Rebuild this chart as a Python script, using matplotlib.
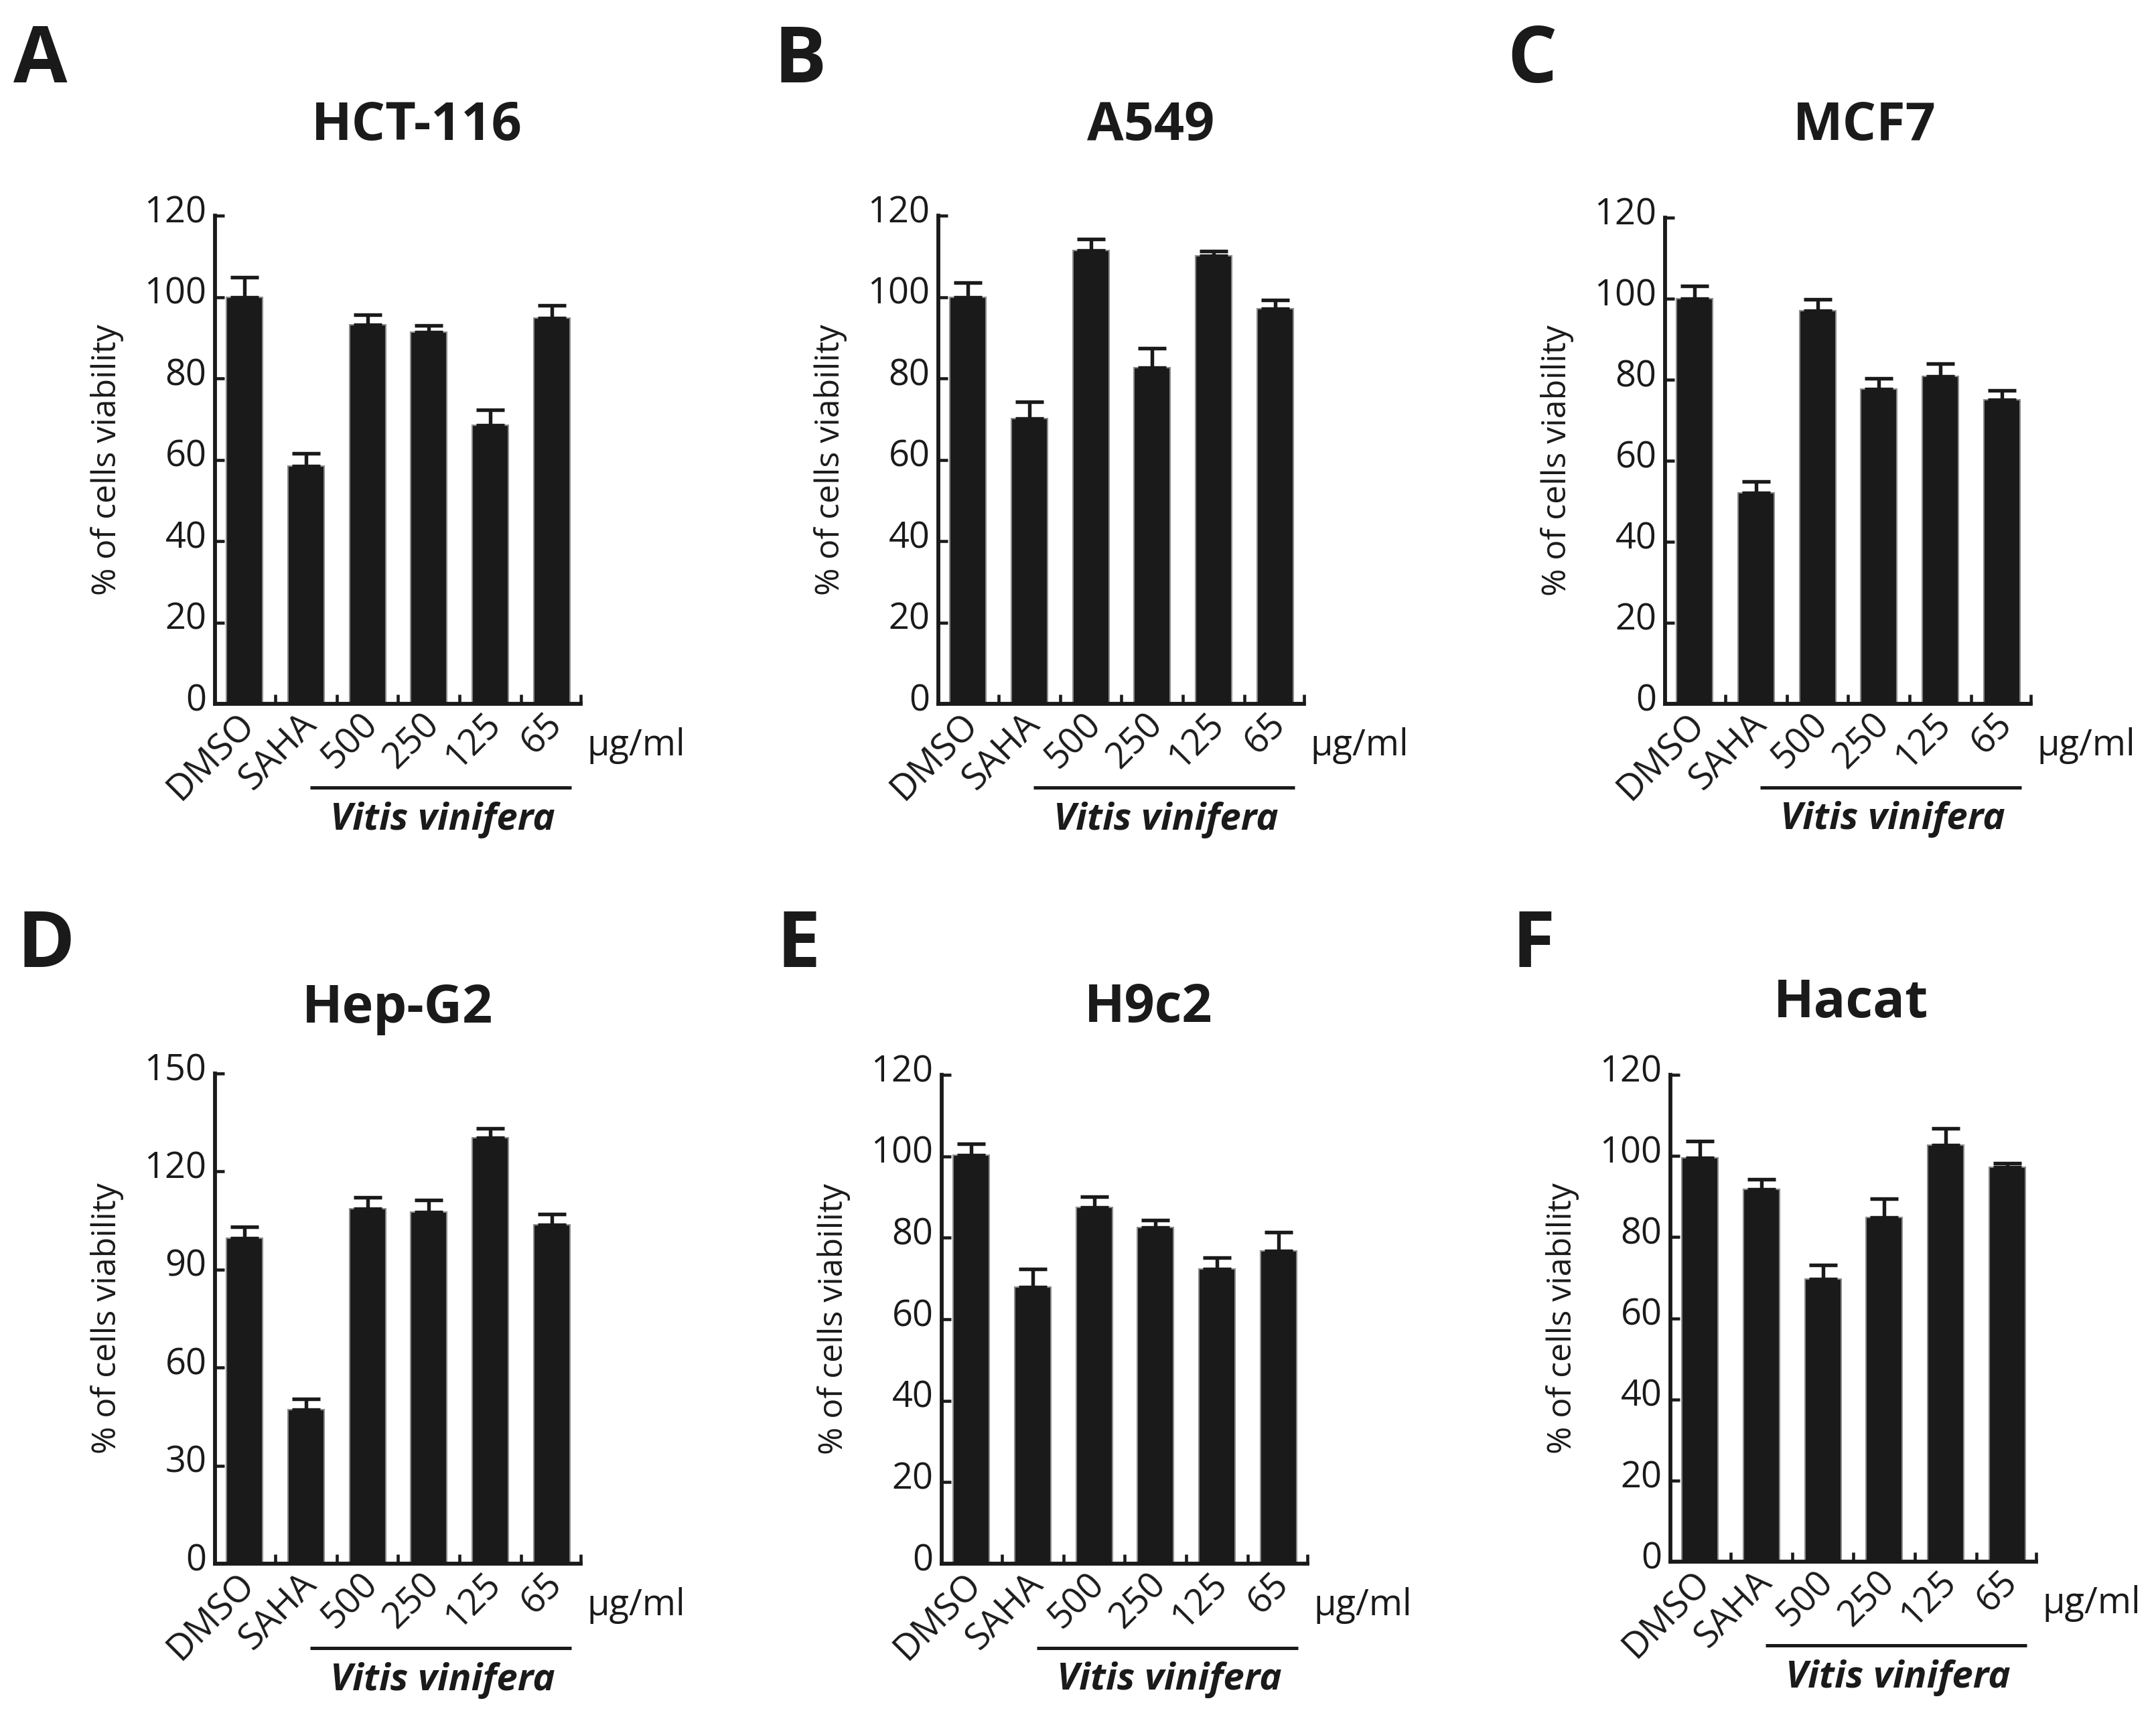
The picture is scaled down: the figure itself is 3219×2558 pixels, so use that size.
import matplotlib
matplotlib.use('Agg')
import matplotlib.pyplot as plt
import matplotlib.transforms as mtransforms
import numpy as np

# =Data
categories = ['DMSO', 'SAHA', '500', '250', '125', '65']
letters = ['A', 'B', 'C', 'D', 'E', 'F']
titles = ['HCT-116', 'A549', 'MCF7', 'Hep-G2', 'H9c2', 'Hacat']

hct116 = [100.0, 58.4, 93.2, 91.4, 68.5, 94.8]
hct116_err = [4.9, 3.2, 2.5, 1.6, 3.8, 3.2]
a549 = [100.0, 70.1, 111.5, 82.7, 110.1, 97.1]
a549_err = [3.6, 4.2, 2.7, 4.7, 1.1, 2.1]
mcf7 = [100.0, 52.0, 97.1, 77.7, 80.8, 75.0]
mcf7_err = [3.1, 2.8, 2.8, 2.6, 3.1, 2.3]
hepg2 = [99.5, 47.2, 108.7, 107.5, 130.4, 103.7]
hepg2_err = [3.6, 3.3, 3.3, 3.7, 2.7, 3.2]
h9c2 = [100.2, 67.9, 87.4, 82.5, 72.4, 76.7]
h9c2_err = [2.9, 4.5, 2.7, 1.9, 2.7, 4.7]
hacat = [99.6, 91.7, 69.7, 84.9, 102.7, 97.3]
hacat_err = [4.1, 2.6, 3.5, 4.5, 4.1, 0.9]

yticks_120 = [0, 20, 40, 60, 80, 100, 120]
yticks_150 = [0, 30, 60, 90, 120, 150]

values = [hct116, a549, mcf7, hepg2, h9c2, hacat]
errors = [hct116_err, a549_err, mcf7_err, hepg2_err, h9c2_err, hacat_err]
yticks = [yticks_120, yticks_120, yticks_120, yticks_150, yticks_120, yticks_120]

# =Layout (pixels of the 3219x2558 canvas)
W, H = 3219, 2558
FONT = 'Open Sans'
INK = '#1a1a1a'
plt.rcParams['font.family'] = [FONT, 'DejaVu Sans']

axes_left_px = [321, 1401, 2486, 321, 1406, 2494]
axes_bottom_px = [1051, 1051, 1051, 2335, 2335, 2332]
axes_top_px = [322, 322, 325, 1603, 1605, 1605]
axes_width_px = 546
title_x_px = [622, 1718, 2784, 594, 1715, 2764]
title_base_px = [209, 209, 209, 1527, 1526, 1519]
letter_x_px = [20, 1155, 2250, 25, 1160, 2257]
letter_base_px = [123, 123, 123, 1444, 1444, 1444]

fig = plt.figure(figsize=(W / 300, H / 300), dpi=300)

for i in range(6):
    l = axes_left_px[i] / W
    b = (H - axes_bottom_px[i]) / H
    h = (axes_bottom_px[i] - axes_top_px[i]) / H
    ax = fig.add_axes([l, b, axes_width_px / W, h])
    x = np.arange(len(categories))
    ax.bar(x, values[i], width=0.59, color=INK, edgecolor='#8c8c8c',
           linewidth=0.5, zorder=2)
    # upper error bars only
    ax.errorbar(x, values[i], yerr=[np.zeros(len(x)), errors[i]], fmt='none',
                ecolor=INK, elinewidth=1.3, capsize=5, capthick=1.3, zorder=3)
    ax.set_xlim(-0.48, 5.47)
    ax.set_ylim(yticks[i][0], yticks[i][-1])
    ax.set_yticks(yticks[i])
    ax.set_xticks(x)
    ax.set_xticks([0.5, 1.5, 2.5, 3.5, 4.5, 5.47], minor=True)
    ax.set_xticklabels(categories, rotation=45, ha='right', va='center',
                       rotation_mode='anchor', fontsize=13, color=INK)
    ax.tick_params(axis='x', which='major', length=0, pad=5.5)
    ax.tick_params(axis='x', which='minor', direction='in', length=3.4,
                   width=1.1, color=INK)
    ax.tick_params(axis='y', direction='in', length=3.4, width=1.1,
                   color=INK, labelsize=13, labelcolor=INK, pad=3)
    for sp in ['top', 'right']:
        ax.spines[sp].set_visible(False)
    for sp in ['left', 'bottom']:
        ax.spines[sp].set_linewidth(1.4)
        ax.spines[sp].set_color(INK)
    # small shifts like the original export
    up = mtransforms.ScaledTranslation(0, 2.6 / 72, fig.dpi_scale_trans)
    for lab in ax.get_yticklabels():
        lab.set_transform(lab.get_transform() + up)
    right = mtransforms.ScaledTranslation(1.7 / 72, 0, fig.dpi_scale_trans)
    for lab in ax.get_xticklabels():
        lab.set_transform(lab.get_transform() + right)

    ax.set_ylabel('% of cells viability', fontsize=12, color=INK, va='center')
    ax.yaxis.set_label_coords(-0.295, 0.5)

    trans = mtransforms.blended_transform_factory(ax.transData, ax.transAxes)
    ax.text(5.57, -0.086, '\u00b5g/ml', transform=trans, fontsize=13,
            color=INK, ha='left', va='center')
    ax.plot([1.07, 5.32], [-0.172, -0.172], transform=trans, color=INK,
            linewidth=1.2, clip_on=False, solid_capstyle='butt')
    ax.text(3.22, -0.238, 'Vitis vinifera', transform=trans, fontsize=13.5,
            fontweight='bold', fontstyle='italic', color=INK,
            ha='center', va='center')

    fig.text(title_x_px[i] / W, (H - title_base_px[i]) / H, titles[i],
             fontsize=19, fontweight='bold', color=INK, ha='center',
             va='baseline')
    fig.text(letter_x_px[i] / W, (H - letter_base_px[i]) / H, letters[i],
             fontsize=28, fontweight='bold', color=INK, ha='left',
             va='baseline')

fig.savefig('out.png', dpi=300, facecolor='white')
